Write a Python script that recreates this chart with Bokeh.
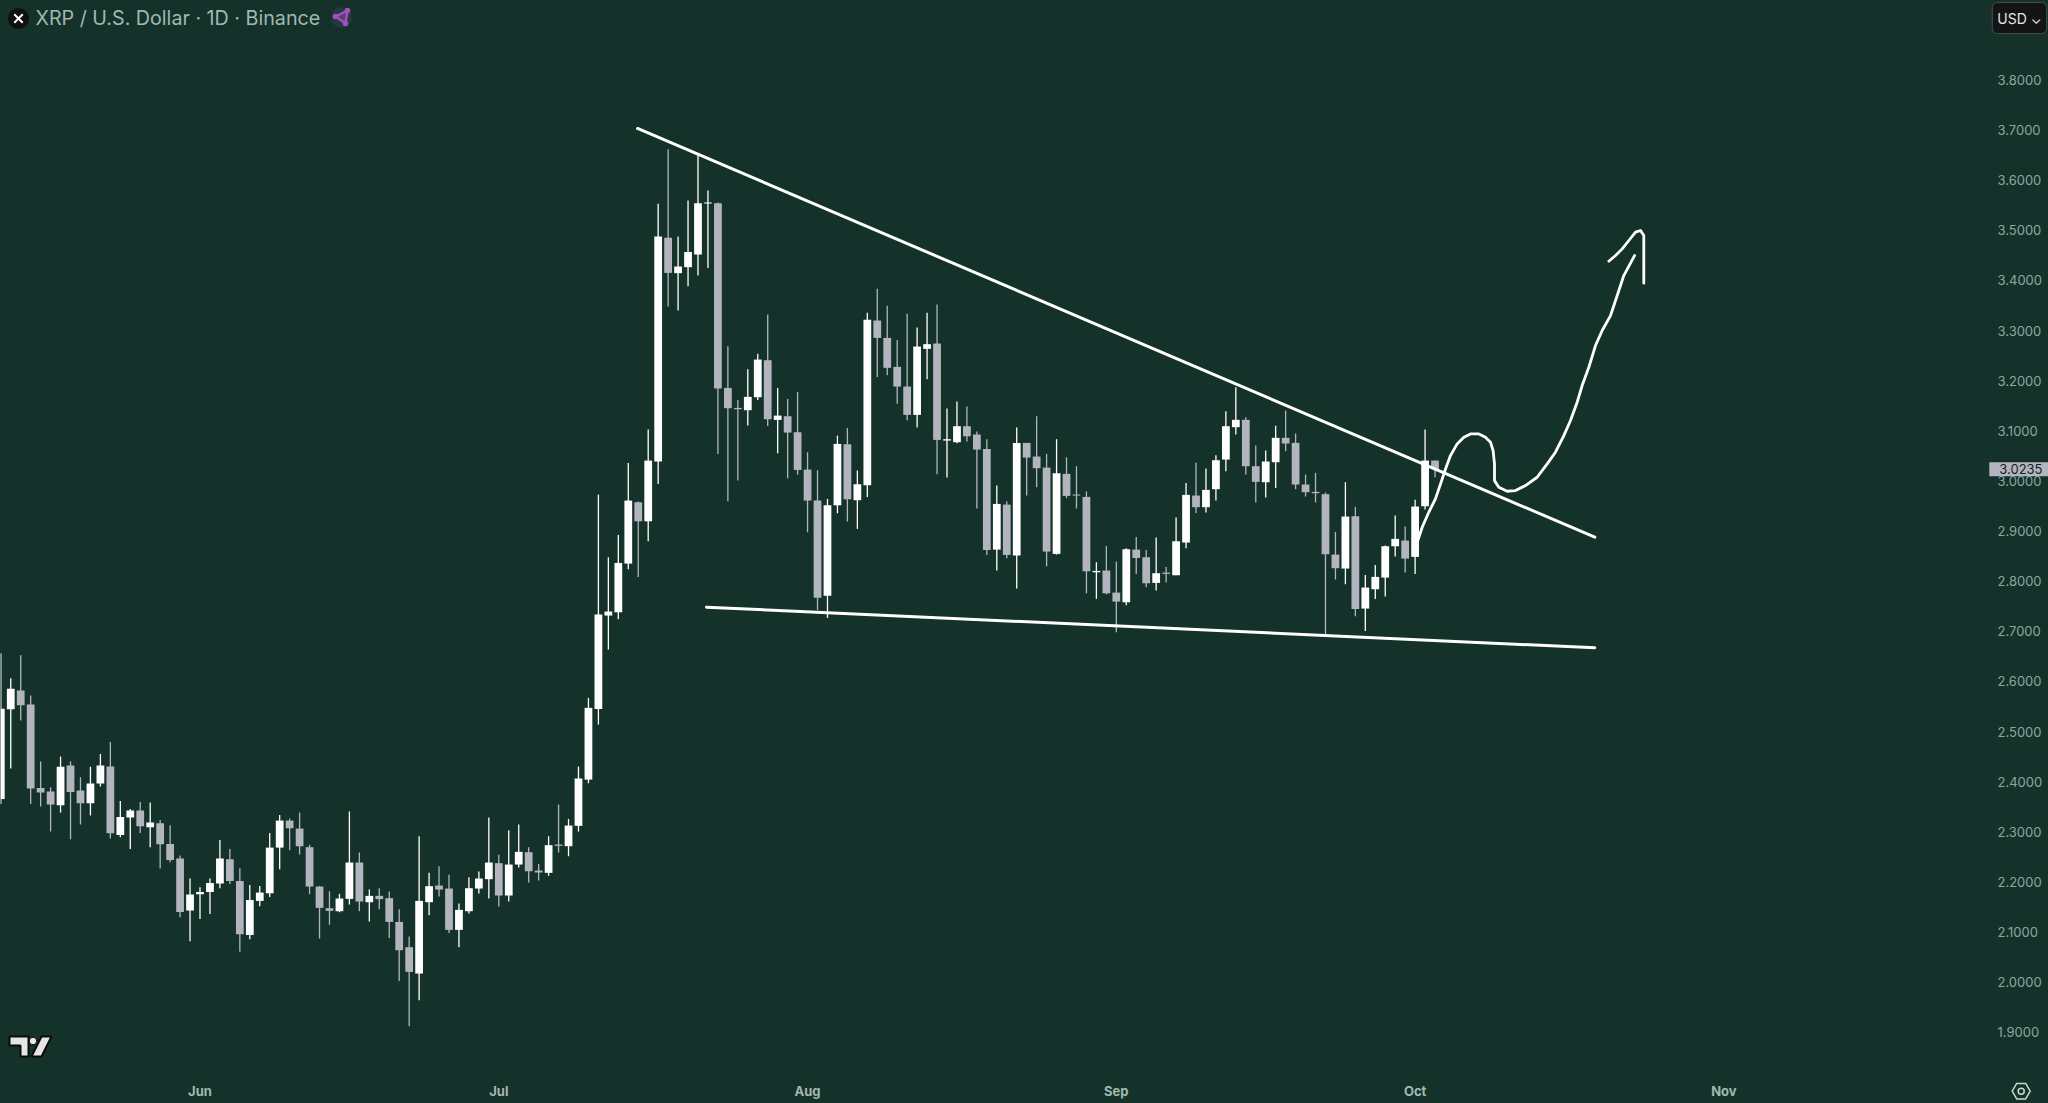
from bokeh.plotting import figure
from bokeh.models import Label, ColumnDataSource, FixedTicker, Range1d, NumeralTickFormatter, LinearAxis
from bokeh.embed import file_html
from bokeh.resources import INLINE

# ---- Data (XRP/USD daily, first candle 12 May) ----
highs = [2.6564,2.6066,2.6524,2.5720,2.4403,2.3891,2.4503,2.4410,2.4090,2.4297,
2.4556,2.4795,2.3618,2.3459,2.3598,2.3585,2.3239,2.3133,2.2528,2.2069,
2.1896,2.2069,2.2840,2.2661,2.2275,2.1943,2.1923,2.2980,2.3339,2.3266,
2.3386,2.2742,2.1924,2.1817,2.1764,2.3407,2.2589,2.1850,2.1877,2.1810,
2.1458,2.0913,2.2914,2.2183,2.2316,2.2143,2.1571,2.2096,2.2210,2.3287,
2.2542,2.3034,2.3147,2.2695,2.2362,2.2914,2.3546,2.3260,2.4304,2.5673,
2.9727,2.8477,2.8922,3.0359,2.9588,3.1024,3.5526,3.6617,3.4874,3.5592,
3.6530,3.5792,3.5553,3.2687,3.1616,3.2228,3.2534,3.3318,3.1855,3.1636,
3.1775,3.0572,3.0213,2.9641,3.0904,3.1057,3.0207,3.3352,3.3831,3.3492,
3.2813,3.3332,3.3059,3.3352,3.3518,3.1443,3.1583,3.1483,3.0985,3.0832,
2.9907,2.9595,3.1064,3.0758,3.1291,3.0539,3.0832,3.0472,3.0293,2.9788,
2.8378,2.8704,2.8391,2.8657,2.8883,2.8624,2.8870,2.8285,2.9269,2.9961,
3.0360,3.0247,3.0513,3.1391,3.1870,3.1271,3.0706,3.0606,3.1098,3.1404,
3.0945,3.0127,3.0160,2.9768,2.8983,2.9974,2.9482,2.8126,2.8325,2.8711,
2.9309,2.9090,2.9622,3.1025,3.0406]
opens = [2.3658,2.5447,2.5820,2.5540,2.3878,2.3805,2.3532,2.4323,2.3824,2.3572,
2.3964,2.4303,2.2940,2.3286,2.3425,2.3093,2.3173,2.2760,2.2468,2.1431,
2.1756,2.1803,2.1969,2.2455,2.2022,2.0945,2.1623,2.1776,2.2687,2.3226,
2.3066,2.2695,2.1910,2.1478,2.1418,2.1664,2.2389,2.1598,2.1724,2.1678,
2.1205,2.0700,2.0175,2.1598,2.1930,2.1870,2.1046,2.1418,2.1870,2.2057,
2.2376,2.1731,2.2349,2.2595,2.2229,2.2183,2.2748,2.2715,2.3121,2.4043,
2.5453,2.7315,2.7380,2.8351,2.9574,2.9195,3.0385,3.4848,3.4143,3.4263,
3.4515,3.5533,3.5539,3.1855,3.1456,3.1410,3.1669,3.2407,3.1217,3.1290,
3.0971,3.0226,2.9608,2.7712,2.9514,3.0731,2.9615,2.9914,3.3199,3.2853,
3.2275,3.1882,3.1317,3.2634,3.2740,3.0805,3.0772,3.1091,3.0925,3.0639,
2.8630,2.9528,2.8511,3.0758,3.0486,3.0266,2.8544,3.0140,2.9728,2.9681,
2.8178,2.8212,2.7773,2.7580,2.8630,2.8477,2.7966,2.8172,2.8119,2.8771,
2.9708,2.9476,2.9835,3.0426,3.1072,3.1218,3.0293,2.9974,3.0373,3.0859,
3.0759,2.9928,2.9781,2.9735,2.8531,2.8252,2.9296,2.7454,2.7840,2.8072,
2.8697,2.8811,2.8485,2.9495,3.0406]
closes = [2.5454,2.5853,2.5527,2.3864,2.3785,2.3545,2.4297,2.3798,2.3572,2.3964,
2.4323,2.2973,2.3299,2.3425,2.3113,2.3186,2.2754,2.2441,2.1404,2.1750,
2.1803,2.1983,2.2468,2.2022,2.0958,2.1643,2.1790,2.2687,2.3226,2.3073,
2.2714,2.1910,2.1485,2.1425,2.1671,2.2389,2.1611,2.1724,2.1658,2.1205,
2.0640,2.0208,2.1624,2.1917,2.1850,2.1046,2.1445,2.1877,2.2070,2.2389,
2.1731,2.2349,2.2602,2.2216,2.2190,2.2735,2.2722,2.3127,2.4065,2.5473,
2.7335,2.7395,2.8364,2.9608,2.9195,3.0405,3.4874,3.4149,3.4276,3.4568,
3.5539,3.5553,3.1842,3.1450,3.1430,3.1676,3.2420,3.1230,3.1303,3.0964,
3.0219,2.9608,2.7672,2.9514,3.0738,2.9634,2.9934,3.3212,3.2853,3.2255,
3.1882,3.1317,3.2680,3.2727,3.0818,3.0832,3.1091,3.0891,3.0625,2.8624,
2.9541,2.8524,3.0758,3.0466,3.0253,2.8591,3.0153,2.9701,2.9708,2.8198,
2.8205,2.7759,2.7593,2.8637,2.8464,2.7959,2.8159,2.8146,2.8797,2.9722,
2.9476,2.9821,3.0413,3.1091,3.1218,3.0293,2.9981,3.0387,3.0859,3.0746,
2.9928,2.9775,2.9755,2.8538,2.8259,2.9289,2.7447,2.7873,2.8086,2.8697,
2.8844,2.8451,2.9489,3.0406,3.0235]
lows = [2.3558,2.4263,2.5221,2.3558,2.3505,2.3007,2.3386,2.2854,2.3146,2.3326,
2.3904,2.2867,2.2894,2.2661,2.2980,2.2694,2.2268,2.2395,2.1297,2.0819,
2.1264,2.1364,2.1876,2.1963,2.0612,2.0859,2.1517,2.1703,2.2255,2.2634,
2.2548,2.1757,2.0873,2.1146,2.1398,2.1551,2.1418,2.1212,2.1458,2.0886,
2.0028,1.9124,1.9643,2.1338,2.1711,2.0986,2.0700,2.1372,2.1771,2.1671,
2.1511,2.1611,2.2289,2.1990,2.2030,2.2123,2.2589,2.2515,2.3007,2.3970,
2.5141,2.6637,2.7240,2.8238,2.8085,2.8796,2.9940,3.3478,3.3398,3.3883,
3.4096,3.4249,3.0538,2.9594,3.0006,3.1104,3.1616,3.1097,3.0552,3.0053,
3.0126,2.8976,2.7426,2.7267,2.9355,2.9189,2.9043,2.9681,3.2075,3.2108,
3.1537,3.1211,3.1064,3.2029,3.0133,3.0067,3.0752,3.0785,2.9448,2.8524,
2.8212,2.8458,2.7852,2.9708,2.9874,2.8298,2.8531,2.9655,2.9448,2.7759,
2.7646,2.7739,2.6981,2.7520,2.8145,2.7879,2.7813,2.7973,2.8119,2.8658,
2.9362,2.9369,2.9608,3.0194,3.0925,3.0127,2.9569,2.9668,2.9861,3.0593,
2.9835,2.9688,2.9569,2.6915,2.8033,2.7939,2.7301,2.7008,2.7647,2.7693,
2.8491,2.8172,2.8146,2.9429,3.0074]

month_days = [20, 50, 81, 112, 142, 173]
month_labels = ["Jun", "Jul", "Aug", "Sep", "Oct", "Nov"]
price_ticks = [1.9,2.0,2.1,2.2,2.3,2.4,2.5,2.6,2.7,2.8,2.9,3.0,3.1,3.2,3.3,3.4,3.5,3.6,3.7,3.8]
last_price = 3.0235

upper_day = [63.93, 160.04]
upper_price = [3.7029, 2.8878]
lower_day = [70.85, 160.04]
lower_price = [2.7482, 2.6672]

path_day = [142.27,142.71,143.37,144.04,144.55,145.05,145.55,146.22,146.89,147.56,148.40,149.06,149.57,
            149.83,149.97,149.97,150.40,151.24,152.08,153.08,154.25,155.26,156.09,156.93,157.60,158.27,
            158.77,159.44,160.11,160.78,161.62,162.29,162.95,164.03]
path_price = [2.8810,2.9076,2.9375,2.9641,2.9940,3.0239,3.0505,3.0738,3.0871,3.0938,3.0938,3.0871,3.0771,
              3.0605,3.0339,3.0006,2.9873,2.9794,2.9807,2.9907,3.0073,3.0339,3.0572,3.0904,3.1204,3.1569,
              3.1902,3.2267,3.2700,3.2999,3.3298,3.3697,3.4096,3.4495]
arrow_day = [161.45,162.12,162.79,163.46,164.13,164.63,164.96,164.96]
arrow_price = [3.4382,3.4495,3.4628,3.4795,3.4961,3.4994,3.4894,3.3943]

# ---- Style ----
BG = "#14322a"
UP = "#ffffff"
DOWN = "#b2b5be"
AXIS_TEXT = "#8fa69f"
HEAD_TEXT = "#a3b8b1"
FONT = "Inter"

def day_at(px):
    return (px - 0.3) / 9.96

def price_at(py):
    return 3.8 - (py - 79.3) / 501.4

def y_of(price):
    return 79.3 + (3.8 - price) * 501.4

days = list(range(len(opens)))
colors = [UP if c >= o else DOWN for o, c in zip(opens, closes)]
src = ColumnDataSource(dict(day=days, o=opens, h=highs, l=lows, c=closes, color=colors))

p = figure(frame_width=2048, frame_height=1103,
           x_range=Range1d(day_at(0), day_at(2048)),
           y_range=Range1d(price_at(1103), price_at(0)),
           x_axis_type=None, y_axis_type=None,
           output_backend="svg", toolbar_location=None,
           background_fill_color=BG, border_fill_color=BG,
           min_border_left=0, min_border_top=0, min_border_right=0, min_border_bottom=0)
p.outline_line_color = None
p.grid.visible = False

xaxis = LinearAxis(ticker=FixedTicker(ticks=month_days), major_label_overrides=dict(zip(month_days, month_labels)),
                   fixed_location=price_at(1075))
yaxis = LinearAxis(ticker=FixedTicker(ticks=price_ticks), formatter=NumeralTickFormatter(format="0.0000"),
                   fixed_location=day_at(1990))
p.add_layout(xaxis, "below")
p.add_layout(yaxis, "right")
for ax in (xaxis, yaxis):
    ax.axis_line_color = None
    ax.major_tick_line_color = None
    ax.minor_tick_line_color = None
    ax.major_label_text_color = AXIS_TEXT
    ax.major_label_text_font = FONT
    ax.major_label_text_font_size = "13px"
    ax.major_label_standoff = 1
xaxis.major_label_text_font_style = "bold"
xaxis.major_label_text_color = HEAD_TEXT

p.segment("day", "h", "day", "l", source=src, line_color="color", line_width=1.3)
p.vbar("day", 0.78, "o", "c", source=src, fill_color="color", line_color=None)

for xs, ys in ((upper_day, upper_price), (lower_day, lower_price)):
    p.line(xs, ys, line_color="#ffffff", line_width=3, line_cap="round")
for xs, ys in ((path_day, path_price), (arrow_day, arrow_price)):
    p.line(xs, ys, line_color="#ffffff", line_width=2.8, line_cap="round", line_join="round")

# Header: coin badge
p.scatter([day_at(18)], [price_at(18)], size=21, fill_color="#101010", line_color=None)
p.scatter([day_at(18)], [price_at(18)], size=12, marker="x", line_color="#ffffff", line_width=2)
p.add_layout(Label(x=35, y=17, x_units="canvas", y_units="canvas",
                   text="XRP / U.S. Dollar · 1D · Binance", text_color=HEAD_TEXT,
                   text_font=FONT, text_font_size="19.7px", text_align="left", text_baseline="middle"))

# Header: purple badge
tri_x = [day_at(v) for v in (347, 335, 345)]
tri_y = [price_at(v) for v in (10, 16, 23)]
p.scatter([day_at(341)], [price_at(17)], size=21, fill_color="#24393d", line_color=None)
p.patch(tri_x, tri_y, fill_color="#a24fc0", fill_alpha=0.4, line_color="#a24fc0", line_width=2.5)
p.scatter(tri_x, tri_y, size=5.5, fill_color="#a24fc0", line_color=None)

# Currency button
p.add_layout(Label(x=2019, y=17.5, x_units="canvas", y_units="canvas",
                   text="USD ⌄", text_color="#e4e4e4", text_font=FONT,
                   text_font_size="14px", text_align="center", text_baseline="middle",
                   background_fill_color="#141414", border_line_color="#44504c",
                   padding=(5, 5, 7, 7), border_radius=5))

# Last price tag
p.add_layout(Label(x=2048, y=y_of(last_price), x_units="canvas", y_units="canvas",
                   text=f"{last_price:.4f}", text_color="#15211e", text_font=FONT,
                   text_font_size="13px", text_align="right", text_baseline="middle",
                   background_fill_color=DOWN, padding=(10, 6, 2, 2)))

# Settings icon
p.scatter([day_at(2020.7)], [price_at(1090.7)], size=18, marker="hex", fill_color=None,
          line_color="#c9d6d1", line_width=1.5)
p.scatter([day_at(2020.7)], [price_at(1090.7)], size=6, marker="circle", fill_color=None,
          line_color="#c9d6d1", line_width=1.5)

# Chart-vendor mark
logo_xs = [[day_at(v) for v in (9, 28, 28, 20, 20, 9)],
           [day_at(v) for v in (41, 51, 41, 31)]]
logo_ys = [[price_at(v) for v in (1036, 1036, 1056, 1056, 1045, 1045)],
           [price_at(v) for v in (1036, 1036, 1056, 1056)]]
p.patches(logo_xs, logo_ys, fill_color="#e6e6e6", line_color="#0b0b0b", line_width=2)
p.scatter([day_at(32.5)], [price_at(1040.5)], size=7.5, fill_color="#e6e6e6", line_color="#0b0b0b", line_width=1)

html = file_html(p, INLINE)
html = html.replace("<head>", f"<head><style>html,body{{margin:0;padding:0;background:{BG};overflow:hidden}}</style>", 1)
open("out.html", "w").write(html)
